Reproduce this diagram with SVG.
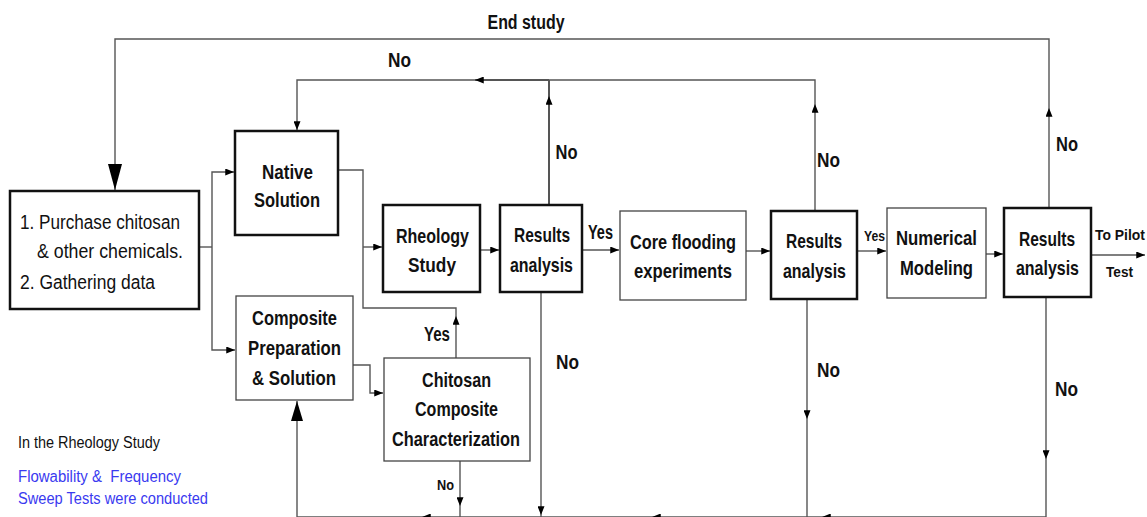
<svg xmlns="http://www.w3.org/2000/svg" width="1147" height="517" viewBox="0 0 1147 517">
<style>
.tb{fill:#fff;stroke:#111;stroke-width:2.5}
.nb{fill:#fff;stroke:#444;stroke-width:1.3}
.c{fill:none;stroke:#555;stroke-width:1.4}
.ca{fill:none;stroke:#555;stroke-width:1.4;marker-end:url(#ah)}
.bt{font-family:"Liberation Sans",Arial,sans-serif;font-weight:bold;font-size:21px;fill:#111;text-anchor:middle}
.lb{font-family:"Liberation Sans",Arial,sans-serif;font-weight:bold;font-size:20px;fill:#111}
.sl{font-family:"Liberation Sans",Arial,sans-serif;font-weight:bold;font-size:15px;fill:#111}
.nt{font-family:"Liberation Sans",Arial,sans-serif;font-size:20px;fill:#111}
.note{font-family:"Liberation Sans",Arial,sans-serif;font-size:16px}
</style>
<defs>
<marker id="ah" viewBox="0 0 10 8" refX="10" refY="4" markerWidth="9" markerHeight="7" markerUnits="userSpaceOnUse" orient="auto"><path d="M0,0 L10,4 L0,8 z" fill="#000"/></marker>
<marker id="big" viewBox="0 0 26 14" refX="26" refY="7" markerWidth="26" markerHeight="14" markerUnits="userSpaceOnUse" orient="auto"><path d="M0,0 L26,7 L0,14 z" fill="#000"/></marker>
<marker id="big2" viewBox="0 0 20 12" refX="20" refY="6" markerWidth="20" markerHeight="12" markerUnits="userSpaceOnUse" orient="auto"><path d="M0,0 L20,6 L0,12 z" fill="#000"/></marker>
</defs>

<g id="connectors">
  <!-- End study loop -->
  <path class="ca" d="M1049,208 V108"/>
  <path class="c" d="M1049,108 V39 H115 V190" style="marker-end:url(#big)"/>
  <!-- No loop top -->
  <path class="ca" d="M549,205 V96" style="stroke-width:2"/>
  <path class="c" d="M549,96 V80" style="stroke-width:2"/>
  <path class="ca" d="M815,211 V104"/>
  <path class="c" d="M815,104 V80 H549"/>
  <path class="ca" d="M549,80 H475" style="stroke-width:2"/>
  <path class="ca" d="M475,80 H297 V130"/>
  <!-- Left box split -->
  <path class="c" d="M195,247 H212"/>
  <path class="ca" d="M212,247 V172 H234"/>
  <path class="ca" d="M212,247 V350 H235"/>
  <!-- Native + Yes merge into Rheology -->
  <path class="c" d="M338,170 H363 V308 H456 V316"/>
  <path class="ca" d="M456,358 V316"/>
  <path class="ca" d="M363,247 H382"/>
  <!-- main line -->
  <path class="ca" d="M480,250 H499"/>
  <path class="ca" d="M582,250 H619"/>
  <path class="ca" d="M746,251 H770"/>
  <path class="ca" d="M857,251 H886"/>
  <path class="ca" d="M986,254 H1003"/>
  <path class="ca" d="M1091,255 H1145"/>
  <!-- Composite to Chitosan -->
  <path class="ca" d="M353,365 H370 V393 H383"/>
  <!-- downward No lines -->
  <path class="ca" d="M460,461 V506"/>
  <path class="c" d="M460,506 V517"/>
  <path class="ca" d="M541,292 V515"/>
  <path class="c" d="M541,515 V517"/>
  <path class="ca" d="M807,299 V419"/>
  <path class="c" d="M807,419 V517"/>
  <path class="ca" d="M1046,297 V459"/>
  <path class="c" d="M1046,459 V517"/>
  <!-- bottom return line -->
  <path class="ca" d="M1046,517 H822"/>
  <path class="ca" d="M822,517 H652"/>
  <path class="ca" d="M652,517 H422"/>
  <path class="c" d="M422,517 H297 V401" style="marker-end:url(#big2)"/>
</g>

<g id="labels">
  <text class="lb" x="526" y="29" textLength="77" lengthAdjust="spacingAndGlyphs" text-anchor="middle">End study</text>
  <text class="lb" x="399.5" y="67" textLength="23" lengthAdjust="spacingAndGlyphs" text-anchor="middle">No</text>
  <text class="lb" x="566.5" y="159" textLength="22" lengthAdjust="spacingAndGlyphs" text-anchor="middle">No</text>
  <text class="lb" x="828.5" y="167" textLength="23" lengthAdjust="spacingAndGlyphs" text-anchor="middle">No</text>
  <text class="lb" x="1067" y="151" textLength="22" lengthAdjust="spacingAndGlyphs" text-anchor="middle">No</text>
  <text class="lb" x="600.5" y="239" textLength="25" lengthAdjust="spacingAndGlyphs" text-anchor="middle">Yes</text>
  <text class="sl" x="874.5" y="241" textLength="21" lengthAdjust="spacingAndGlyphs" text-anchor="middle">Yes</text>
  <text class="sl" x="1120" y="240" textLength="50" lengthAdjust="spacingAndGlyphs" text-anchor="middle">To Pilot</text>
  <text class="sl" x="1119.5" y="277" textLength="27" lengthAdjust="spacingAndGlyphs" text-anchor="middle">Test</text>
  <text class="lb" x="437" y="341" textLength="26" lengthAdjust="spacingAndGlyphs" text-anchor="middle">Yes</text>
  <text class="sl" x="445.5" y="490" textLength="17" lengthAdjust="spacingAndGlyphs" text-anchor="middle">No</text>
  <text class="lb" x="567.5" y="369" textLength="23" lengthAdjust="spacingAndGlyphs" text-anchor="middle">No</text>
  <text class="lb" x="828.5" y="377" textLength="23" lengthAdjust="spacingAndGlyphs" text-anchor="middle">No</text>
  <text class="lb" x="1066.5" y="396" textLength="23" lengthAdjust="spacingAndGlyphs" text-anchor="middle">No</text>
</g>

<g id="node-start">
  <rect class="tb" x="10" y="191" width="189" height="118"/>
  <text class="nt" x="20" y="229" textLength="160" lengthAdjust="spacingAndGlyphs">1. Purchase chitosan</text>
  <text class="nt" x="37" y="258" textLength="146" lengthAdjust="spacingAndGlyphs">&amp; other chemicals.</text>
  <text class="nt" x="20" y="289" textLength="135" lengthAdjust="spacingAndGlyphs">2. Gathering data</text>
</g>

<g id="node-native">
  <rect class="tb" x="235" y="131" width="103" height="104"/>
  <text class="bt" x="287.5" y="179" textLength="51" lengthAdjust="spacingAndGlyphs">Native</text>
  <text class="bt" x="287" y="207" textLength="66" lengthAdjust="spacingAndGlyphs">Solution</text>
</g>

<g id="node-composite">
  <rect class="nb" x="236" y="296" width="117" height="104"/>
  <text class="bt" x="294.5" y="325" textLength="85" lengthAdjust="spacingAndGlyphs">Composite</text>
  <text class="bt" x="294.5" y="355" textLength="93" lengthAdjust="spacingAndGlyphs">Preparation</text>
  <text class="bt" x="294" y="385" textLength="84" lengthAdjust="spacingAndGlyphs">&amp; Solution</text>
</g>

<g id="node-rheology">
  <rect class="tb" x="383" y="205" width="97" height="87"/>
  <text class="bt" x="432.5" y="243" textLength="73" lengthAdjust="spacingAndGlyphs">Rheology</text>
  <text class="bt" x="432" y="272" textLength="48" lengthAdjust="spacingAndGlyphs">Study</text>
</g>

<g id="node-results1">
  <rect class="tb" x="500" y="205" width="82" height="87"/>
  <text class="bt" x="542" y="242" textLength="56" lengthAdjust="spacingAndGlyphs">Results</text>
  <text class="bt" x="541.5" y="272" textLength="63" lengthAdjust="spacingAndGlyphs">analysis</text>
</g>

<g id="node-chitosan">
  <rect class="nb" x="384" y="358" width="146" height="103"/>
  <text class="bt" x="456.5" y="387" textLength="69" lengthAdjust="spacingAndGlyphs">Chitosan</text>
  <text class="bt" x="456.5" y="416" textLength="83" lengthAdjust="spacingAndGlyphs">Composite</text>
  <text class="bt" x="456" y="446" textLength="128" lengthAdjust="spacingAndGlyphs">Characterization</text>
</g>

<g id="node-core">
  <rect class="nb" x="620" y="211" width="126" height="89"/>
  <text class="bt" x="683" y="249" textLength="106" lengthAdjust="spacingAndGlyphs">Core flooding</text>
  <text class="bt" x="683" y="278" textLength="98" lengthAdjust="spacingAndGlyphs">experiments</text>
</g>

<g id="node-results2">
  <rect class="tb" x="771" y="211" width="86" height="88"/>
  <text class="bt" x="814" y="248" textLength="56" lengthAdjust="spacingAndGlyphs">Results</text>
  <text class="bt" x="814.5" y="278" textLength="63" lengthAdjust="spacingAndGlyphs">analysis</text>
</g>

<g id="node-numerical">
  <rect class="nb" x="887" y="208" width="99" height="90"/>
  <text class="bt" x="936.5" y="245" textLength="81" lengthAdjust="spacingAndGlyphs">Numerical</text>
  <text class="bt" x="936.5" y="275" textLength="73" lengthAdjust="spacingAndGlyphs">Modeling</text>
</g>

<g id="node-results3">
  <rect class="tb" x="1004" y="208" width="87" height="89"/>
  <text class="bt" x="1047" y="246" textLength="56" lengthAdjust="spacingAndGlyphs">Results</text>
  <text class="bt" x="1047.5" y="275" textLength="63" lengthAdjust="spacingAndGlyphs">analysis</text>
</g>

<g id="note">
  <text class="note" x="18" y="448" fill="#111" textLength="142" lengthAdjust="spacingAndGlyphs">In the Rheology Study</text>
  <text class="note" x="18" y="482" fill="#3a3af0" textLength="163" lengthAdjust="spacingAndGlyphs" xml:space="preserve">Flowability &amp;  Frequency</text>
  <text class="note" x="18" y="504" fill="#3a3af0" textLength="190" lengthAdjust="spacingAndGlyphs">Sweep Tests were conducted</text>
</g>
</svg>
